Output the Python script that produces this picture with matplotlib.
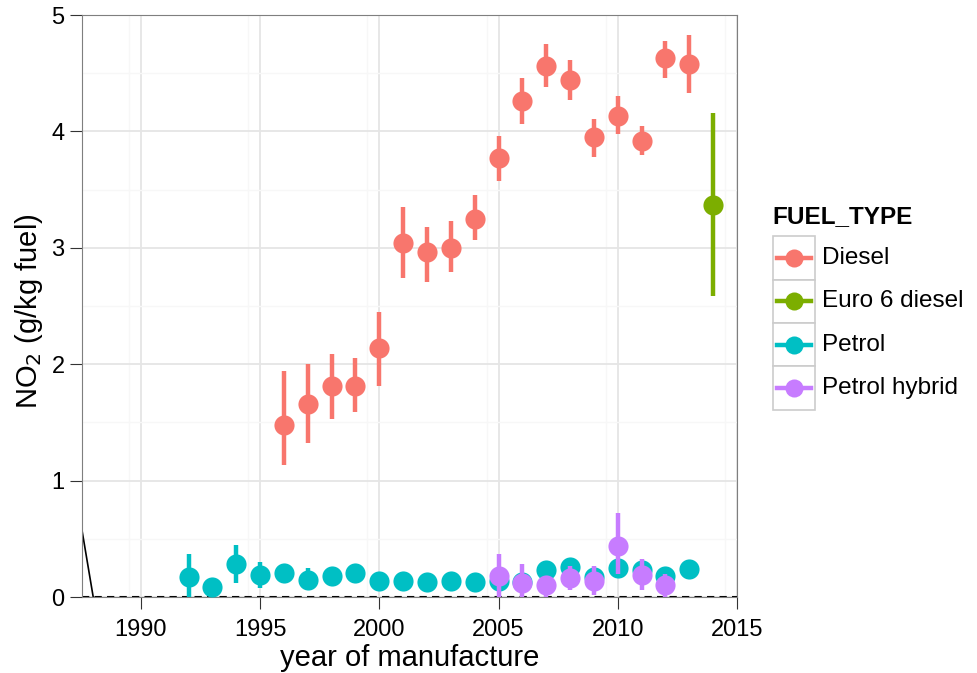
import matplotlib.pyplot as plt
from matplotlib.lines import Line2D
from matplotlib.patches import Rectangle

plt.rcParams['font.family'] = ['Liberation Sans', 'DejaVu Sans']

# NO2 emission factor by year of manufacture, with error ranges
diesel_year = list(range(1996, 2014))
diesel_val = [1.48, 1.66, 1.81, 1.81, 2.14, 3.04, 2.96, 3.00, 3.25, 3.77,
              4.26, 4.56, 4.44, 3.95, 4.13, 3.92, 4.63, 4.58]
diesel_lo = [1.13, 1.32, 1.53, 1.59, 1.81, 2.74, 2.71, 2.79, 3.07, 3.57,
             4.06, 4.38, 4.27, 3.78, 3.98, 3.80, 4.46, 4.33]
diesel_hi = [1.94, 2.00, 2.09, 2.05, 2.45, 3.35, 3.18, 3.23, 3.45, 3.96,
             4.46, 4.75, 4.61, 4.11, 4.30, 4.05, 4.78, 4.83]

euro6_year = [2014]
euro6_val = [3.37]
euro6_lo = [2.59]
euro6_hi = [4.16]

petrol_year = list(range(1992, 2014))
petrol_val = [0.17, 0.09, 0.28, 0.19, 0.21, 0.15, 0.18, 0.21, 0.14, 0.14, 0.13,
              0.14, 0.13, 0.14, 0.13, 0.23, 0.26, 0.17, 0.25, 0.23, 0.18, 0.24]
petrol_lo = [0.00, 0.07, 0.12, 0.08, 0.18, 0.10, 0.15, 0.18, 0.11, 0.11, 0.10,
             0.11, 0.10, 0.11, 0.10, 0.19, 0.22, 0.14, 0.21, 0.19, 0.15, 0.20]
petrol_hi = [0.37, 0.11, 0.45, 0.30, 0.24, 0.25, 0.21, 0.24, 0.17, 0.17, 0.16,
             0.17, 0.16, 0.17, 0.16, 0.27, 0.30, 0.20, 0.29, 0.27, 0.21, 0.28]

hybrid_year = list(range(2005, 2013))
hybrid_val = [0.18, 0.12, 0.10, 0.16, 0.14, 0.44, 0.19, 0.10]
hybrid_lo = [0.00, 0.00, 0.00, 0.06, 0.02, 0.20, 0.06, 0.00]
hybrid_hi = [0.37, 0.28, 0.15, 0.27, 0.27, 0.72, 0.33, 0.20]

# reference line (solid then dashed along zero)
ref_x = [1987.0, 1988.0]
ref_y = [1.22, 0.0]

labels = ['Diesel', 'Euro 6 diesel', 'Petrol', 'Petrol hybrid']
colors = ['#F8766D', '#7CAE00', '#00BFC4', '#C77CFF']
groups = [
    (diesel_year, diesel_val, diesel_lo, diesel_hi),
    (euro6_year, euro6_val, euro6_lo, euro6_hi),
    (petrol_year, petrol_val, petrol_lo, petrol_hi),
    (hybrid_year, hybrid_val, hybrid_lo, hybrid_hi),
]

W, H = 977, 673
fig = plt.figure(figsize=(W / 100, H / 100), dpi=100)
ax = fig.add_axes([82 / W, 1 - 597 / H, 655 / W, 582 / H])

ax.plot(ref_x, ref_y, color='black', lw=1.2, zorder=2)
ax.axhline(0, color='black', lw=1.5, ls=(0, (3.5, 2.5)), zorder=2)

z = 3
for (yr, v, lo, hi), c in zip(groups, colors):
    ax.vlines(yr, lo, hi, color=c, lw=3.2, zorder=z)
    ax.plot(yr, v, 'o', color=c, ms=14.5, mec='none', zorder=z + 1)
    z += 2

ax.set_xlim(1987.53, 2015)
ax.set_ylim(0, 5)
ax.set_xticks(range(1990, 2016, 5))
ax.set_yticks(range(0, 6))
ax.set_xticks([x + 2.5 for x in range(1987, 2015, 5)], minor=True)
ax.set_yticks([y + 0.5 for y in range(0, 5)], minor=True)
ax.grid(True, which='major', color='#E5E5E5', lw=1.3)
ax.grid(True, which='minor', color='#F7F7F7', lw=1.0)
ax.set_axisbelow(True)
for s in ax.spines.values():
    s.set_color('#7F7F7F')
ax.tick_params(which='major', direction='out', length=8.5, color='#333333',
               labelsize=17, pad=4)
ax.tick_params(axis='x', which='major', pad=7)
ax.tick_params(which='minor', length=0)

fig.text(409.5 / W, 1 - 666 / H, 'year of manufacture', fontsize=21,
         ha='center', va='baseline')
fig.text(29 / W, 1 - 311 / H, 'NO$_2$ (g/kg fuel)', fontsize=21,
         rotation=90, ha='center', va='center')

# legend drawn by hand, ggplot style
fig.text(772 / W, 1 - 217 / H, 'FUEL_TYPE', fontsize=17.5, fontweight='bold',
         va='center', ha='left')
key_w, key_h = 42, 43.5
top = 236
for i, (lab, c) in enumerate(zip(labels, colors)):
    y0 = top + i * key_h
    fig.add_artist(Rectangle((773 / W, 1 - (y0 + key_h) / H), key_w / W,
                             key_h / H, transform=fig.transFigure,
                             facecolor='white', edgecolor='#CCCCCC', lw=1.2))
    yc = 1 - (y0 + key_h / 2) / H
    fig.add_artist(Line2D([777 / W, 811 / W], [yc, yc], color=c, lw=3.2,
                          transform=fig.transFigure))
    fig.add_artist(Line2D([794 / W], [yc], marker='o', color=c, ms=13,
                          mec='none', transform=fig.transFigure))
    fig.text(822 / W, yc, lab, fontsize=17.5, va='center', ha='left')

plt.savefig('out.png', dpi=100)
